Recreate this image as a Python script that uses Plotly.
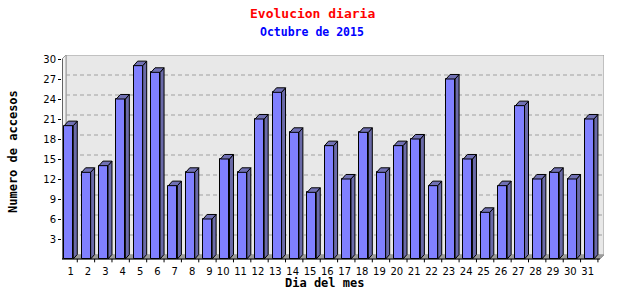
import plotly.graph_objects as go

days = list(range(1, 32))
day_labels = [str(d) for d in days]
accesos = [20, 13, 14, 24, 29, 28, 11, 13, 6, 15, 13, 21, 25, 19, 10, 17,
           12, 19, 13, 17, 18, 11, 27, 15, 7, 11, 23, 12, 13, 12, 21]
y_ticks = [3, 6, 9, 12, 15, 18, 21, 24, 27, 30]

title = "Evolucion diaria"
subtitle = "Octubre de 2015"
x_title = "Dia del mes"
y_title = "Numero de accesos"

# 3D depth in data units
WX, WY = 0.23, 0.6      # wall depth
BX, BY = 0.23, 0.68     # bar depth
BAR_OFF, BAR_W = -0.37, 0.52
X0, X1 = 0.5, 31.5
YMAX = 30
YMIN = -0.75
TICK_LEN = 0.5

FRONT = "#8080ff"
SIDE = "#6a6aa8"
TOP = "#7070b4"

fig = go.Figure()

shapes = []
# back wall
shapes.append(dict(type="rect", xref="x", yref="y", x0=X0 + WX, x1=X1 + WX,
                   y0=WY, y1=YMAX + WY, fillcolor="#e8e8e8",
                   line=dict(color="#999999", width=1), layer="below"))
# left wall
shapes.append(dict(type="path", xref="x", yref="y",
                   path=f"M{X0},0 L{X0},{YMAX} L{X0+WX},{YMAX+WY} L{X0+WX},{WY} Z",
                   fillcolor="#f2f2f2", line=dict(color="#999999", width=1), layer="below"))
# floor
shapes.append(dict(type="path", xref="x", yref="y",
                   path=f"M{X0},0 L{X0+WX},{WY} L{X1+WX},{WY} L{X1},0 Z",
                   fillcolor="#9c9c9c", line=dict(color="#999999", width=1), layer="below"))
# gridlines on back wall
for t in y_ticks[:-1]:
    shapes.append(dict(type="line", xref="x", yref="y", x0=X0 + WX, x1=X1 + WX,
                       y0=t + WY, y1=t + WY,
                       line=dict(color="#a0a0a0", width=1, dash="4px,3px"), layer="below"))
# axis lines
shapes.append(dict(type="line", xref="x", yref="y", x0=X0, x1=X0, y0=0, y1=YMAX,
                   line=dict(color="black", width=1)))
shapes.append(dict(type="line", xref="x", yref="y", x0=X0, x1=X1, y0=0, y1=0,
                   line=dict(color="black", width=1)))

# front faces
fig.add_trace(go.Bar(x=days, y=accesos, width=BAR_W, offset=BAR_OFF,
                     marker=dict(color=FRONT, line=dict(color="black", width=1)),
                     hoverinfo="skip", showlegend=False))

# side and top faces
sx, sy, tx, ty = [], [], [], []
for d, v in zip(days, accesos):
    xa = d + BAR_OFF
    xb = xa + BAR_W
    sx += [xb, xb + BX, xb + BX, xb, xb, None]
    sy += [0, BY, v + BY, v, 0, None]
    tx += [xa, xa + BX, xb + BX, xb, xa, None]
    ty += [v, v + BY, v + BY, v, v, None]
fig.add_trace(go.Scatter(x=sx, y=sy, mode="lines", fill="toself", fillcolor=SIDE,
                         line=dict(color="black", width=1), hoverinfo="skip",
                         showlegend=False))
fig.add_trace(go.Scatter(x=tx, y=ty, mode="lines", fill="toself", fillcolor=TOP,
                         line=dict(color="black", width=1), hoverinfo="skip",
                         showlegend=False))

# x tick marks at the back-right edge of each bar
kx, ky = [], []
for d in days:
    xt = d + BAR_OFF + BAR_W + BX
    kx += [xt, xt, None]
    ky += [0, -TICK_LEN, None]
fig.add_trace(go.Scatter(x=kx, y=ky, mode="lines", line=dict(color="black", width=1),
                         hoverinfo="skip", showlegend=False))

# label positions (two-digit labels sit slightly left, as in the original)
label_pos = [d if d < 10 else d - 0.21 for d in days]

L, R, T, B = 62, 36, 55, 36
W, H = 640, 300
pw, ph = W - L - R, H - T - B


def px(xp):
    return (xp - L) / pw


def py(yp):
    return (H - B - yp) / ph


mono = "DejaVu Sans Mono"
annotations = [
    dict(text=f"<b>{title}</b>", x=px(312), y=py(14), xref="paper", yref="paper",
         showarrow=False, font=dict(family=mono, size=13, color="#ff0000"),
         xanchor="center", yanchor="middle"),
    dict(text=f"<b>{subtitle}</b>", x=px(312), y=py(32), xref="paper", yref="paper",
         showarrow=False, font=dict(family=mono, size=11.5, color="#0000ff"),
         xanchor="center", yanchor="middle"),
    dict(text=f"<b>{x_title}</b>", x=px(324), y=py(283), xref="paper", yref="paper",
         showarrow=False, font=dict(family=mono, size=12, color="black"),
         xanchor="center", yanchor="middle"),
    dict(text=f"<b>{y_title}</b>", x=px(13), y=py(152), xref="paper", yref="paper",
         showarrow=False, textangle=-90, font=dict(family=mono, size=12, color="black"),
         xanchor="center", yanchor="middle"),
]

fig.update_layout(
    width=W, height=H, autosize=False,
    margin=dict(l=L, r=R, t=T, b=B, pad=0),
    paper_bgcolor="white", plot_bgcolor="white",
    shapes=shapes, annotations=annotations, bargap=0,
    xaxis=dict(range=[X0, X1 + WX], tickmode="array", tickvals=label_pos,
               ticktext=day_labels,
               ticks="", showgrid=False, zeroline=False, showline=False,
               ticklabelstandoff=0,
               tickfont=dict(family="DejaVu Sans", size=10, color="black"),
               fixedrange=True),
    yaxis=dict(range=[YMIN, YMAX + WY], tickmode="array", tickvals=y_ticks,
               ticktext=[str(t) for t in y_ticks],
               ticks="outside", ticklen=3, tickcolor="black",
               showgrid=False, zeroline=False, showline=False,
               tickfont=dict(family="DejaVu Sans", size=10, color="black"),
               fixedrange=True),
)

fig.write_html("out.html")
